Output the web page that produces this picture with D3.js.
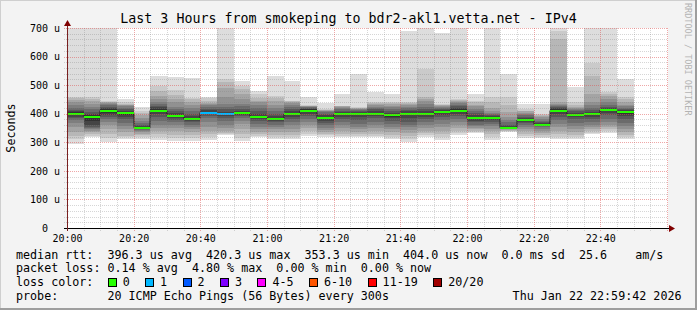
<!DOCTYPE html>
<html>
<head>
<meta charset="utf-8">
<script src="https://cdn.jsdelivr.net/npm/d3@7"></script>
<style>
  body { margin: 0; background: #f3f3f3; }
  svg { display: block; font-family: "DejaVu Sans Mono", monospace; }
  svg text { white-space: pre; }
</style>
</head>
<body>
<svg id="chart" width="697" height="310"></svg>
<script>
// 5 minute slots, one smoke column each
const slotTimes = ["20:00","20:05","20:10","20:15","20:20","20:25","20:30","20:35","20:40","20:45",
  "20:50","20:55","21:00","21:05","21:10","21:15","21:20","21:25","21:30","21:35",
  "21:40","21:45","21:50","21:55","22:00","22:05","22:10","22:15","22:20","22:25",
  "22:30","22:35","22:40","22:45"];

// median rtt per slot (us)
const medians = [399,390,411,401,351,411,393,382,404,398,401,390,383,399,411,385,398,398,398,394,
  398,398,405,411,385,385,351,378,362,411,397,399,413,405];

// lost pings per slot (of 20)
const losses = [0,0,0,0,0,0,0,0,1,1,0,0,0,0,0,0,0,0,0,0,0,0,0,0,0,0,0,0,0,0,0,0,0,0];

// 20 sorted ping times per slot (us)
const pings = [
  [293,311,323,335,352,368,378,385,390,395,405,410,414,420,430,440,448,455,460,720],
  [320,323,330,335,340,345,350,355,362,375,395,400,405,415,425,434,445,452,460,720],
  [302,315,330,346,360,372,380,388,395,402,416,420,425,430,434,438,440,442,443,720],
  [311,318,323,335,345,358,368,380,388,395,406,410,415,420,428,430,432,434,440,451],
  [311,318,325,330,335,338,342,345,347,349,354,358,362,368,375,385,395,402,408,422],
  [308,318,329,340,350,362,376,390,400,406,416,422,428,435,440,450,463,480,498,533],
  [306,315,325,340,350,360,370,378,385,390,397,402,408,415,425,440,451,465,483,530],
  [303,315,325,335,345,355,362,370,375,380,385,392,400,410,420,430,440,450,455,525],
  [308,320,330,341,355,370,385,392,398,402,407,412,418,425,430,434,436,445,455,460],
  [325,328,332,340,350,362,375,385,392,396,400,406,415,425,434,460,490,510,521,720],
  [306,315,330,345,364,375,385,392,396,399,404,410,418,428,434,450,469,485,498,516],
  [317,322,329,335,345,355,365,375,382,387,393,400,410,420,430,440,446,455,469,481],
  [311,318,325,335,345,355,362,370,376,380,386,392,400,410,420,432,445,455,463,533],
  [311,318,325,335,348,360,372,382,390,396,402,408,415,422,430,436,440,443,446,516],
  [322,330,338,350,362,372,382,392,400,406,415,418,420,422,424,426,427,428,430,460],
  [320,325,330,336,342,350,360,368,376,381,389,395,400,405,408,410,412,414,416,436],
  [317,322,330,340,350,362,372,382,390,395,402,406,410,415,420,424,426,427,428,469],
  [317,322,328,335,345,355,365,378,388,394,402,406,410,414,416,418,420,421,422,539],
  [317,322,330,340,350,360,372,384,392,395,402,408,415,420,425,430,434,437,440,475],
  [310,318,325,335,345,355,365,375,385,390,398,404,410,415,422,428,434,438,440,469],
  [302,312,322,332,342,352,362,372,385,394,402,408,414,420,425,430,434,437,440,688],
  [320,325,332,340,350,360,370,380,390,395,402,410,418,425,435,445,452,457,556,720],
  [308,318,328,340,352,365,378,388,396,402,408,412,416,420,424,428,430,432,434,682],
  [325,332,340,350,360,370,382,392,400,406,415,420,426,432,436,440,444,448,451,720],
  [334,337,340,345,350,356,362,370,376,381,389,395,402,410,418,426,432,440,446,469],
  [308,318,328,338,348,356,364,372,378,382,388,392,396,400,404,408,420,440,457,720],
  [337,339,341,343,345,346,347,348,349,350,353,358,362,370,378,390,405,430,457,539],
  [314,322,330,338,346,354,362,368,372,376,381,386,390,395,400,404,408,411,416,434],
  [314,320,326,333,340,346,352,356,359,361,364,368,372,376,382,388,392,396,399,434],
  [311,320,330,340,352,365,378,390,400,406,415,420,424,428,430,434,440,661,690,720],
  [311,318,326,335,345,356,368,380,390,394,400,404,408,412,416,420,425,432,440,492],
  [329,334,340,346,352,360,370,382,390,396,402,406,412,420,430,440,470,533,576,720],
  [334,340,346,352,360,370,382,394,404,410,416,420,425,430,440,450,463,470,475,720],
  [310,318,326,335,345,356,368,380,392,400,408,412,416,420,426,432,440,450,457,521]
];

// outer band first, inner last
const smokeGrays = ["#dddddd","#cacaca","#b7b7b7","#a4a4a4","#919191","#7e7e7e","#6b6b6b","#585858","#454545","#323232"];

const lossLabels = ["0","1","2","3","4-5","6-10","11-19","20/20"];
const lossColors = ["#26ff00","#00b8ff","#0059ff","#7e00ff","#ff00ff","#ff5500","#ff0000","#a00000"];

const yTicks = [0,100,200,300,400,500,600,700];
const xLabels = ["20:00","20:20","20:40","21:00","21:20","21:40","22:00","22:20","22:40"];

const legendRows = [
  "median rtt:  396.3 us avg  420.3 us max  353.3 us min  404.0 us now  0.0 ms sd  25.6    am/s",
  "packet loss: 0.14 % avg  4.80 % max  0.00 % min  0.00 % now",
  "loss color:",
  "probe:       20 ICMP Echo Pings (56 Bytes) every 300s"
];
const dateText = "Thu Jan 22 22:59:42 2026";
const title = "Last 3 Hours from smokeping to bdr2-akl1.vetta.net - IPv4";

const W = 697, H = 310;
const pLeft = 67, pRight = 667, pTop = 28, pBottom = 228;

const parse = d3.timeParse("%H:%M");
const x = d3.scaleTime().domain([parse("20:00"), parse("23:00")]).range([pLeft, pRight]);
const y = d3.scaleLinear().domain([0, 700]).range([pBottom, pTop]);

const svg = d3.select("#chart");

// background + shade
svg.append("rect").attr("width", W).attr("height", H).attr("fill", "#f3f3f3");
svg.append("path").attr("d", `M0,${H} V0 H${W}`).attr("stroke", "#cfcfcf").attr("stroke-width", 2).attr("fill", "none");
svg.append("path").attr("d", `M0,${H - 1} H${W - 1} V0`).attr("stroke", "#9e9e9e").attr("stroke-width", 2).attr("fill", "none");

svg.append("rect").attr("x", pLeft).attr("y", pTop).attr("width", pRight - pLeft + 1).attr("height", pBottom - pTop)
  .attr("fill", "#ffffff");

svg.append("clipPath").attr("id", "plot")
  .append("rect").attr("x", pLeft).attr("y", pTop).attr("width", pRight - pLeft + 1).attr("height", pBottom - pTop);

const slots = slotTimes.map((t, i) => {
  const t0 = parse(t);
  return { t0, t1: d3.timeMinute.offset(t0, 5), p: pings[i], med: medians[i], loss: losses[i] };
});

const lossIndex = l => l === 0 ? 0 : l === 1 ? 1 : l === 2 ? 2 : l === 3 ? 3 : l <= 5 ? 4 : l <= 10 ? 5 : l < 20 ? 6 : 7;

// smoke
const smoke = svg.append("g").attr("clip-path", "url(#plot)").attr("shape-rendering", "crispEdges");
slots.forEach(s => {
  smokeGrays.forEach((c, i) => {
    const lo = s.p[i], hi = s.p[19 - i];
    smoke.append("rect")
      .attr("x", Math.round(x(s.t0)))
      .attr("width", Math.round(x(s.t1)) - Math.round(x(s.t0)))
      .attr("y", y(hi))
      .attr("height", y(lo) - y(hi))
      .attr("fill", c);
  });
});

// median step line
const pts = [];
slots.forEach(s => { pts.push([Math.round(x(s.t0)), y(s.med)], [Math.round(x(s.t1)), y(s.med)]); });
svg.append("path").attr("d", d3.line()(pts)).attr("fill", "none").attr("stroke", "#202020").attr("stroke-width", 1);

svg.append("g").attr("shape-rendering", "crispEdges").selectAll("rect").data(slots).join("rect")
  .attr("x", d => Math.round(x(d.t0)))
  .attr("width", d => Math.round(x(d.t1)) - Math.round(x(d.t0)))
  .attr("y", d => Math.round(y(d.med)) - 1)
  .attr("height", 2)
  .attr("fill", d => lossColors[lossIndex(d.loss)]);

// grid on top
const grid = svg.append("g").attr("shape-rendering", "crispEdges").attr("stroke-dasharray", "1,1");
const minorX = x.ticks(d3.timeMinute.every(5));
const majorX = x.ticks(d3.timeMinute.every(20));
grid.selectAll(".vx").data(minorX.filter(t => t.getMinutes() % 20 !== 0)).join("line")
  .attr("x1", d => Math.round(x(d)) + 0.5).attr("x2", d => Math.round(x(d)) + 0.5)
  .attr("y1", pTop).attr("y2", pBottom + 3)
  .attr("stroke", "rgba(128,128,128,0.32)");
grid.selectAll(".vy").data(y.ticks(35).filter(v => v % 100 !== 0)).join("line")
  .attr("y1", d => Math.round(y(d)) + 0.5).attr("y2", d => Math.round(y(d)) + 0.5)
  .attr("x1", pLeft - 3).attr("x2", pRight + 1)
  .attr("stroke", "rgba(128,128,128,0.32)");
grid.selectAll(".mx").data(majorX).join("line")
  .attr("x1", d => Math.round(x(d)) + 0.5).attr("x2", d => Math.round(x(d)) + 0.5)
  .attr("y1", pTop).attr("y2", pBottom + 3)
  .attr("stroke", "rgba(222,80,80,0.5)");
grid.selectAll(".my").data(yTicks.filter(v => v > 0)).join("line")
  .attr("y1", d => Math.round(y(d)) + 0.5).attr("y2", d => Math.round(y(d)) + 0.5)
  .attr("x1", pLeft - 3).attr("x2", pRight + 1)
  .attr("stroke", "rgba(222,80,80,0.5)");

// axes
const xAxis = svg.append("g").attr("transform", `translate(0,${pBottom})`)
  .call(d3.axisBottom(x).tickValues(xLabels.map(parse)).tickFormat(d3.timeFormat("%H:%M")).tickSize(0).tickPadding(6.5));
xAxis.select(".domain").remove();
xAxis.selectAll("text").attr("font-family", "DejaVu Sans Mono").attr("font-size", "10px").attr("fill", "#000");

const yAxis = svg.append("g").attr("transform", `translate(${pLeft},0)`)
  .call(d3.axisLeft(y).tickValues(yTicks).tickFormat(d => d ? d + " u" : "0  ").tickSize(0).tickPadding(7));
yAxis.select(".domain").remove();
yAxis.selectAll("text").attr("font-family", "DejaVu Sans Mono").attr("font-size", "10px").attr("fill", "#000");

svg.append("line").attr("x1", pLeft - 3).attr("x2", pRight + 4).attr("y1", pBottom + 0.5).attr("y2", pBottom + 0.5)
  .attr("stroke", "#000").attr("shape-rendering", "crispEdges");
svg.append("line").attr("x1", pLeft + 0.5).attr("x2", pLeft + 0.5).attr("y1", pBottom + 3).attr("y2", pTop - 4)
  .attr("stroke", "#7a2020").attr("shape-rendering", "crispEdges");
svg.append("path").attr("d", `M${pRight + 2},${pBottom - 3} L${pRight + 8},${pBottom + 0.5} L${pRight + 2},${pBottom + 4} Z`).attr("fill", "#800000");
svg.append("path").attr("d", `M${pLeft - 3},${pTop - 2} L${pLeft + 0.5},${pTop - 8} L${pLeft + 4},${pTop - 2} Z`).attr("fill", "#800000");

// texts
svg.append("text").attr("x", W / 2).attr("y", 23).attr("text-anchor", "middle")
  .attr("font-size", "13.3px").text(title);

svg.append("text").attr("transform", "translate(14.5,128) rotate(-90)").attr("text-anchor", "middle")
  .attr("font-size", "11.7px").text("Seconds");

svg.append("text").attr("transform", "translate(685,3) rotate(90)")
  .attr("font-size", "8.5px").attr("fill", "#b3b3b3").text("RRDTOOL / TOBI OETIKER");

const rowY = [258.5, 272.3, 286.1, 299.9];
const charW = 7.05;
legendRows.forEach((r, i) => {
  svg.append("text").attr("x", 16).attr("y", rowY[i]).attr("font-size", "11.7px").text(r);
});
svg.append("text").attr("x", 681.5).attr("y", rowY[3]).attr("text-anchor", "end").attr("font-size", "11.7px").text(dateText);

// loss colour boxes
let bx = 16 + 13 * charW;
lossLabels.forEach((l, i) => {
  svg.append("rect").attr("x", bx + 0.5).attr("y", rowY[2] - 7.5).attr("width", 8).attr("height", 8)
    .attr("fill", lossColors[i]).attr("stroke", "#000").attr("shape-rendering", "crispEdges");
  svg.append("text").attr("x", bx + 15).attr("y", rowY[2]).attr("font-size", "11.7px").text(l);
  bx = bx + 15 + l.length * charW + 15.4;
});
</script>
</body>
</html>
